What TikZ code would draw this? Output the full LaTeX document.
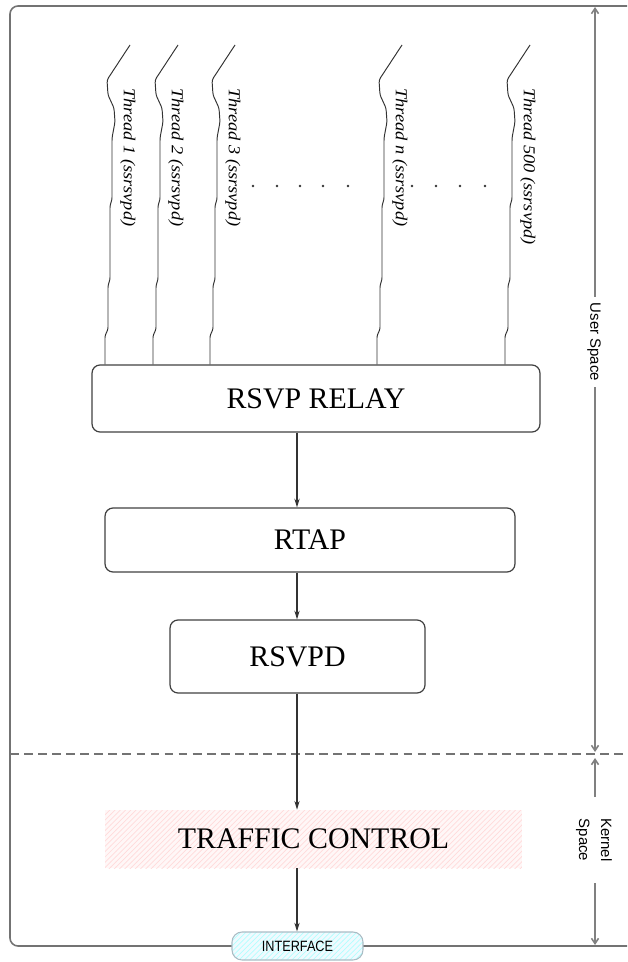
\documentclass[tikz,border=0pt]{standalone}
\usepackage{fontspec}
\setmainfont{Liberation Serif}
\newfontfamily\sansf{Liberation Sans}
\usetikzlibrary{arrows.meta,patterns}
\begin{document}
\begin{tikzpicture}[x=0.02cm,y=-0.02cm,
  frame/.style={draw=black!55,line width=0.9pt},
  box/.style={draw=black!75,line width=0.7pt,rounded corners=0.16cm,inner sep=0pt},
  thread/.style={draw=black!80,line width=0.55pt,line join=round},
  arr/.style={draw=black!80,line width=0.6pt,-{Stealth[length=5pt,width=3pt]}},
  dim/.style={draw=black!50,line width=0.9pt,-{Straight Barb[length=3pt,width=4pt]}},
  bigtxt/.style={font=\fontsize{17}{20}\selectfont},
  tlabel/.style={font=\fontsize{9.5}{11}\selectfont\itshape,rotate=-90,anchor=west,inner sep=0pt},
  sidetxt/.style={font=\sansf\fontsize{8.5}{12.5}\selectfont,rotate=-90,align=center,inner sep=0pt}]
\useasboundingbox (0,0) rectangle (627,962);

% outer frame
\draw[frame,rounded corners=0.16cm] (627,6) -- (10,6) -- (10,946) -- (627,946);
% dashed separator
\draw[draw=black!55,line width=0.8pt,dash pattern=on 5pt off 3pt] (10,754) -- (627,754);

% boxes
\node[box,minimum width=8.96cm,minimum height=1.34cm,bigtxt] (relay) at (316,398.5) {RSVP RELAY};
\node[box,minimum width=8.2cm,minimum height=1.28cm,bigtxt] (rtap) at (310,540) {RTAP};
\node[box,minimum width=5.1cm,minimum height=1.46cm,bigtxt] (rsvpd) at (297.5,656.5) {RSVPD};
\node[inner sep=0pt,minimum width=8.34cm,minimum height=1.16cm,
  preaction={fill=red!3},pattern=north east lines,pattern color=red!14,
  font=\fontsize{17}{20}\selectfont] (tc) at (313.5,839) {TRAFFIC CONTROL};
\node[draw=cyan!35!black!40,line width=0.6pt,rounded corners=0.2cm,inner sep=0pt,
  minimum width=2.62cm,minimum height=0.56cm,
  preaction={fill=cyan!6},pattern=north east lines,pattern color=cyan!30,
  font=\sansf\fontsize{8.5}{10}\selectfont] (iface) at (297.5,946) {\scalebox{0.85}[1]{INTERFACE}};

% vertical connectors
\coordinate (ax) at (297,0);
\draw[arr] (relay.south -| ax) -- (rtap.north -| ax);
\draw[arr] (rtap.south -| ax) -- (rsvpd.north -| ax);
\draw[arr] (rsvpd.south -| ax) -- (tc.north -| ax);
\draw[arr] (tc.south -| ax) -- (iface.north -| ax);

% threads
\foreach \b/\t [count=\i] in {105/1, 153/2, 210/3, 377/n, 505/500}{
  \coordinate (tb\i) at (\b,0);
  \draw[thread,rounded corners=1.5pt] ({\b+25},45) -- ({\b+2},80) -- ({\b+3},95) -- ({\b+9},108) -- ({\b+10},122)
    -- ({\b+7},138) -- ({\b+7},200) -- ({\b+5},205) -- ({\b+5},280) -- ({\b+3},285)
    -- ({\b+3},330) -- ({\b},335) -- (relay.north -| tb\i);
  \node[tlabel] (tl\i) at ({\b+23},88) {\scalebox{1.1}[1]{Thread \t\ (ssrsvpd)}};
}
% dots
\foreach \x in {253,277,300,323,348,412,436,460,485}
  \fill[black!80] (\x,186) circle (1.3);

% side dimension labels
\node[sidetxt] (us) at (594,342) {User Space};
\node[sidetxt] (ks) at (594,840) {Kernel\\Space};
\coordinate (ut) at (595,7);
\coordinate (ub) at (595,752);
\coordinate (kt) at (595,758);
\coordinate (kb) at (595,945);
\draw[dim] (595,297) -- (ut);
\draw[dim] (595,387) -- (ub);
\draw[dim] (595,797) -- (kt);
\draw[dim] (595,883) -- (kb);
\end{tikzpicture}
\end{document}
